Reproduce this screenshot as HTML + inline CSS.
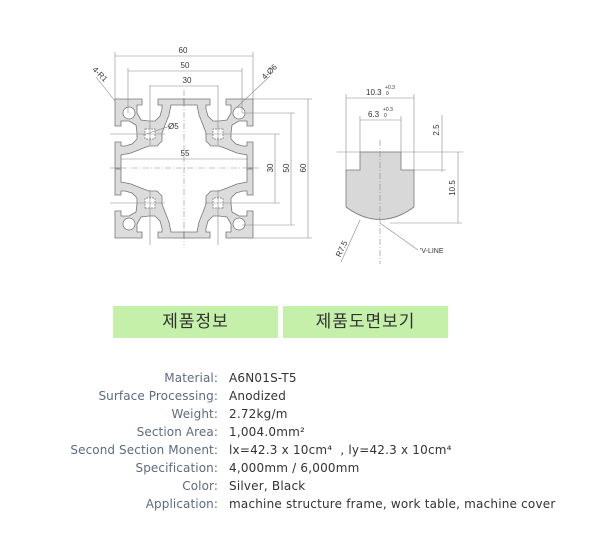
<!DOCTYPE html>
<html><head><meta charset="utf-8"><style>
body{margin:0;width:600px;height:550px;background:#fff;overflow:hidden;font-family:"Liberation Sans","Noto Sans CJK KR",sans-serif;position:relative}
.btn{position:absolute;top:306px;height:32px;background:#c4f0aa;font-size:17px;color:#333;text-align:center;line-height:32px;letter-spacing:1px}
.row{position:absolute;left:0;width:600px;font-size:12px;height:18px;line-height:18px;font-family:"DejaVu Sans",sans-serif}
.l{position:absolute;right:382px;color:#5d6b80;text-align:right;white-space:nowrap;letter-spacing:0.1px}
.v{position:absolute;left:229px;color:#333;white-space:nowrap;letter-spacing:0.2px}
</style></head><body>
<svg width="600" height="300" style="position:absolute;left:0;top:0" font-family="Liberation Sans, sans-serif" font-size="8" fill="#333">
<defs>
<g id="q">
<polygon points="0,0 27,0 27,6 22,6 22,14 26,21 34,22 40,22 45,17 47,10 47,6 43,6 43,0 69,0 69,6 56,6 54,16 50,26 47,34 47,42 42,47 34,47 26,50 16,54 6,56 6,69 0,69 0,43 6,43 6,47 10,47 17,45 22,40 22,34 21,26 14,22 6,22 6,27 0,27" fill="#dcdcdc" stroke="#777" stroke-width="0.8"/>
<circle cx="14" cy="14" r="6" fill="#fff" stroke="#777" stroke-width="0.8"/>
<rect x="30" y="30" width="10" height="10" fill="#fff" stroke="#777" stroke-width="0.7" stroke-dasharray="2,1"/>
</g>
</defs>
<g transform="translate(115,99)"><use href="#q"/></g>
<g transform="translate(253,99) scale(-1,1)"><use href="#q"/></g>
<g transform="translate(115,238) scale(1,-1)"><use href="#q"/></g>
<g transform="translate(253,238) scale(-1,-1)"><use href="#q"/></g>
<g stroke="#888" stroke-width="0.6" fill="none">
<line x1="184" y1="90" x2="184" y2="245" stroke-dasharray="6,2,1,2"/>
<line x1="110" y1="168" x2="260" y2="168" stroke-dasharray="6,2,1,2"/>
<line x1="110" y1="134" x2="165" y2="134"/><line x1="205" y1="134" x2="280" y2="134"/>
<line x1="110" y1="203" x2="165" y2="203"/><line x1="205" y1="203" x2="280" y2="203"/>
<line x1="150" y1="85" x2="150" y2="145"/><line x1="218" y1="85" x2="218" y2="145"/>
<line x1="150" y1="190" x2="150" y2="245"/><line x1="218" y1="190" x2="218" y2="245"/>
<line x1="115" y1="52" x2="115" y2="99"/><line x1="253" y1="52" x2="253" y2="99"/>
<line x1="128" y1="68" x2="128" y2="113"/><line x1="242" y1="68" x2="242" y2="113"/>
<line x1="115" y1="56" x2="253" y2="56"/><line x1="128" y1="71" x2="242" y2="71"/><line x1="150" y1="86" x2="218" y2="86"/>
<line x1="121" y1="159" x2="248" y2="159"/>
<line x1="253" y1="99" x2="312" y2="99"/><line x1="253" y1="238" x2="312" y2="238"/>
<line x1="242" y1="113" x2="295" y2="113"/><line x1="242" y1="225" x2="295" y2="225"/>
<line x1="308" y1="99" x2="308" y2="238"/><line x1="291" y1="113" x2="291" y2="225"/><line x1="275" y1="134" x2="275" y2="203"/>
<line x1="96" y1="77" x2="115" y2="101"/><line x1="270" y1="76" x2="236" y2="108"/>
<line x1="143" y1="135" x2="170" y2="126"/>
</g>
<text x="183" y="53" text-anchor="middle">60</text>
<text x="185" y="68" text-anchor="middle">50</text>
<text x="187" y="83" text-anchor="middle">30</text>
<text x="185" y="156" text-anchor="middle">55</text>
<text x="168" y="129">Ø5</text>
<text transform="translate(92,70) rotate(45)">4-R1</text>
<text transform="translate(265,80) rotate(-45)">4-Ø6</text>
<text transform="translate(273,168) rotate(-90)" text-anchor="middle">30</text>
<text transform="translate(289,168) rotate(-90)" text-anchor="middle">50</text>
<text transform="translate(306,168) rotate(-90)" text-anchor="middle">60</text>
<path d="M360,152 L360,170 L346,170 L346,207 Q380,232 414,207 L414,170 L401,170 L401,152 Z" fill="#d8d8d8" stroke="#777" stroke-width="0.8"/>
<g stroke="#888" stroke-width="0.6" fill="none">
<line x1="337" y1="152" x2="463" y2="152"/>
<line x1="380" y1="140" x2="380" y2="264" stroke-dasharray="6,2,1,2"/>
<line x1="346" y1="94" x2="346" y2="170"/><line x1="414" y1="94" x2="414" y2="170"/>
<line x1="360" y1="116" x2="360" y2="152"/><line x1="401" y1="116" x2="401" y2="152"/>
<line x1="346" y1="98" x2="414" y2="98"/><line x1="360" y1="120" x2="401" y2="120"/>
<line x1="414" y1="170" x2="446" y2="170"/><line x1="390" y1="223" x2="462" y2="223"/>
<line x1="442" y1="115" x2="442" y2="172"/><line x1="458" y1="152" x2="458" y2="223"/>
<line x1="341" y1="262" x2="360" y2="220"/><line x1="380" y1="223" x2="418" y2="250"/>
</g>
<text x="366" y="95" font-size="8">10.3</text><text x="385" y="89" font-size="5">+0.3</text><text x="386" y="95" font-size="5">0</text>
<text x="368" y="117" font-size="8">6.3</text><text x="383" y="111" font-size="5">+0.3</text><text x="384" y="117" font-size="5">0</text>
<text transform="translate(439,130) rotate(-90)" text-anchor="middle">2.5</text>
<text transform="translate(455,188) rotate(-90)" text-anchor="middle">10.5</text>
<text transform="translate(344,250) rotate(-65)" text-anchor="middle">R7.5</text>
<text x="420" y="253" font-size="7">'V-LINE</text>
</svg>
<div class="btn" style="left:113px;width:165px">제품정보</div>
<div class="btn" style="left:283px;width:165px">제품도면보기</div>
<div class="row" style="top:369px"><span class="l">Material:</span><span class="v">A6N01S-T5</span></div>
<div class="row" style="top:387px"><span class="l">Surface Processing:</span><span class="v">Anodized</span></div>
<div class="row" style="top:405px"><span class="l">Weight:</span><span class="v">2.72kg/m</span></div>
<div class="row" style="top:423px"><span class="l">Section Area:</span><span class="v">1,004.0mm²</span></div>
<div class="row" style="top:441px"><span class="l">Second Section Monent:</span><span class="v">lx=42.3 x 10cm⁴ &nbsp;, ly=42.3 x 10cm⁴</span></div>
<div class="row" style="top:459px"><span class="l">Specification:</span><span class="v">4,000mm / 6,000mm</span></div>
<div class="row" style="top:477px"><span class="l">Color:</span><span class="v">Silver, Black</span></div>
<div class="row" style="top:495px"><span class="l">Application:</span><span class="v">machine structure frame, work table, machine cover</span></div>
</body></html>
